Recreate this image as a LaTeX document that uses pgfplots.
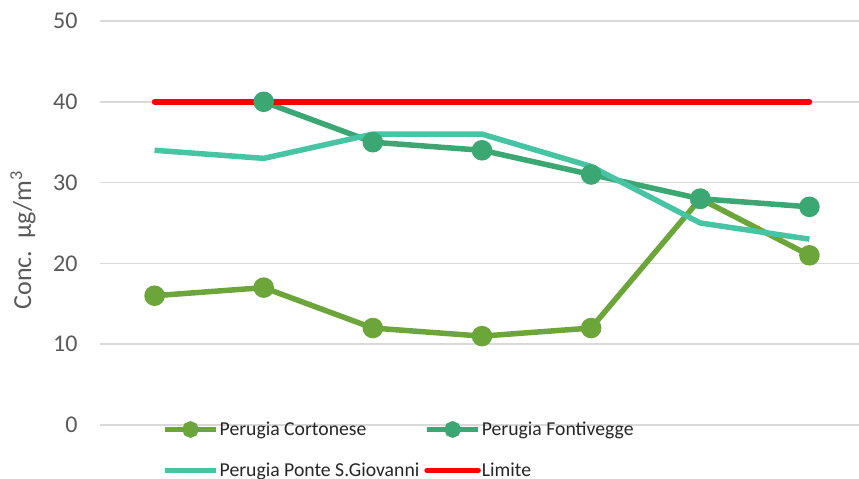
\documentclass[border=0pt]{standalone}
\usepackage{pgfplots}
\pgfplotsset{compat=1.18}
\usepackage{fontspec}
\setmainfont{Carlito}
\definecolor{cortc}{HTML}{6CA63A}
\definecolor{fontc}{HTML}{3BA773}
\definecolor{pontec}{HTML}{47C4A4}
\definecolor{gridc}{HTML}{D9D9D9}
\definecolor{tickc}{HTML}{595959}
\begin{document}
\begin{tikzpicture}
\begin{axis}[
  at={(0,0)}, anchor=south west,
  scale only axis, width=764bp, height=404bp,
  xmin=0, xmax=7, ymin=0, ymax=50,
  ytick={0,10,20,30,40,50}, xtick=\empty,
  axis line style={draw=none},
  ymajorgrids, grid style={gridc, line width=1.5bp},
  major tick length=0pt,
  clip=false,
  /pgf/number format/assume math mode=true,
  yticklabel style={font=\fontsize{24bp}{28bp}\selectfont, text=tickc, anchor=east, xshift=-19bp},
  ylabel={Conc.\ \ µg/m\textsuperscript{3}},
  every axis y label/.style={at={(axis description cs:-0.1008,0.458)}, rotate=90, anchor=center, font=\fontsize{26bp}{30bp}\selectfont, text=tickc},
  legend columns=2,
  legend cell align=left,
  legend style={draw=none, fill=none, inner sep=0pt, at={(axis description cs:0.0812,-0.0619)}, anchor=west,
    font=\fontsize{19.7bp}{23bp}\selectfont, text=black!85, row sep=24bp,
    nodes={inner sep=1bp},
    /tikz/every even column/.append style={column sep=4bp}},
  legend image code/.code={\draw[mark repeat=2,mark phase=2,#1,mark size=5.5bp] plot coordinates {(0bp,0bp) (25.5bp,0bp) (51bp,0bp)};},
]
\addplot[cortc, line width=5.5bp, mark=*, mark size=7.5bp, mark options={solid}] coordinates {
 (0.5,16) (1.5,17) (2.5,12) (3.5,11) (4.5,12) (5.5,28) (6.5,21)};
\addlegendentry{Perugia Cortonese}
\addplot[fontc, line width=5.5bp, mark=*, mark size=7.5bp] coordinates {
 (1.5,40) (2.5,35) (3.5,34) (4.5,31) (5.5,28) (6.5,27)};
\addlegendentry{Perugia Fontivegge}
\addplot[pontec, line width=5.5bp] coordinates {
 (0.5,34) (1.5,33) (2.5,36) (3.5,36) (4.5,32) (5.5,25) (6.5,23)};
\addlegendentry{Perugia Ponte S.Giovanni}
\addplot[red, line width=5.5bp, line cap=round] coordinates {
 (0.5,40) (1.5,40) (2.5,40) (3.5,40) (4.5,40) (5.5,40) (6.5,40)};
\addlegendentry{Limite}
\end{axis}
\pgfresetboundingbox
\path (-100bp,-54bp) rectangle (759bp,425bp);
\end{tikzpicture}
\end{document}
